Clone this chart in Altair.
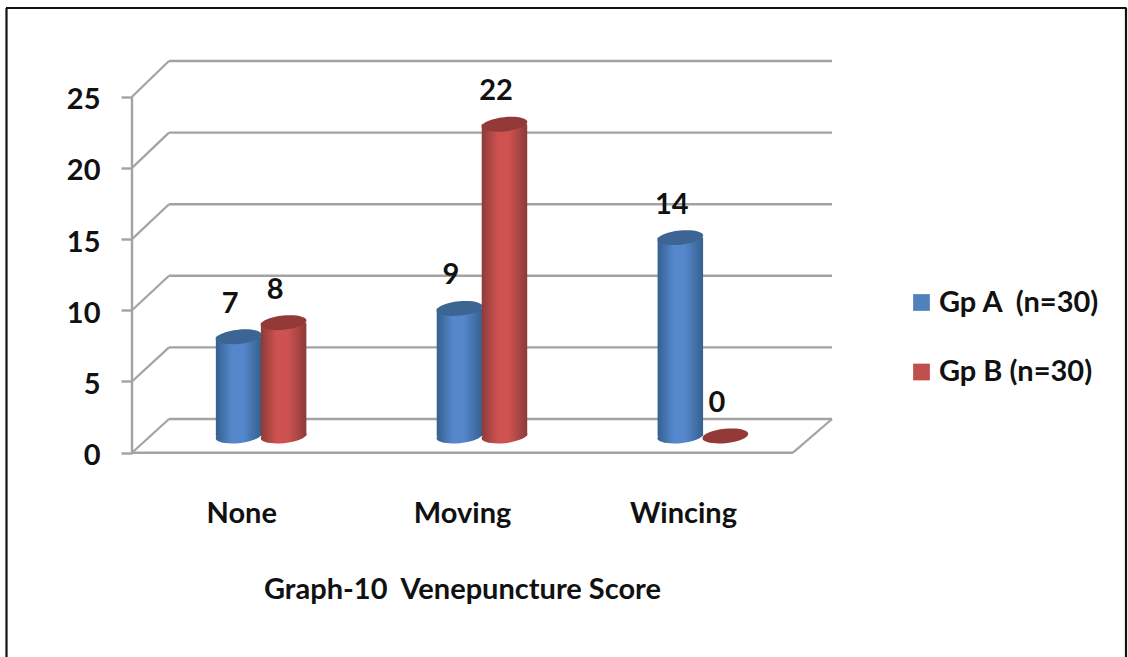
import altair as alt
import pandas as pd

# Venepuncture score counts per group
categories = ["None", "Moving", "Wincing"]
series_names = ["Gp A\u00a0 (n=30)", "Gp B (n=30)"]
gp_a = [7, 9, 14]
gp_b = [8, 22, 0]
ticks = [0, 5, 10, 15, 20, 25]
caption = "Graph-10\u00a0 Venepuncture Score"

W, H = 1128, 657
FONT = "Lato"
FONT_SIZE = 29
TXT = "#111111"
GRID = "#a3a3a3"


def px_domain(zero_px, per_unit):
    """Value domain that puts 0 at zero_px with per_unit pixels per value unit."""
    return [(zero_px - H) / per_unit, zero_px / per_unit]


WALL = alt.Scale(domain=px_domain(419.0, 14.32), range=[H, 0], nice=False, zero=False)
FRONT = alt.Scale(domain=px_domain(452.7, 14.24), range=[H, 0], nice=False, zero=False)
BAR = alt.Scale(domain=px_domain(436.0, 14.17), range=[H, 0], nice=False, zero=False)
X = alt.Scale(domain=categories, range=[150.3, 812.9], paddingInner=0, paddingOuter=0)
X_OFF = alt.Scale(domain=series_names, range=[65.8, 155.8], paddingInner=0, paddingOuter=0)

rows = []
for s, vals in zip(series_names, [gp_a, gp_b]):
    for c, v in zip(categories, vals):
        rows.append({"category": c, "series": s, "value": v, "zero": 0})
df = pd.DataFrame(rows)
tick_df = pd.DataFrame({"v": ticks})
one = pd.DataFrame({"a": [0]})


def grad(edge, mid):
    return alt.Gradient(
        gradient="linear", x1=0, x2=1, y1=0, y2=0,
        stops=[
            alt.GradientStop(color=edge, offset=0),
            alt.GradientStop(color=mid, offset=0.35),
            alt.GradientStop(color=mid, offset=0.6),
            alt.GradientStop(color=edge, offset=1),
        ],
    )


# Slightly tilted ellipse used for cylinder caps
ELLIPSE = "M -0.995 0.1 A 1 0.31 -6 1 1 0.995 -0.1 A 1 0.31 -6 1 1 -0.995 0.1 Z"
CAP_SIZE = 46 ** 2

styles = {
    series_names[0]: dict(edge="#35608f", mid="#5487cb", cap="#3d6594"),
    series_names[1]: dict(edge="#8c3b39", mid="#cd5250", cap="#933a38"),
}

# Category axis carries the chart caption as its title
x_enc = alt.X(
    "category:N", scale=X, title=caption,
    axis=alt.Axis(
        orient="bottom", offset=-165, domain=False, ticks=False, grid=False,
        labelAngle=0, labelFont=FONT, labelFontSize=FONT_SIZE, labelFontWeight="bold",
        labelColor=TXT, labelPadding=7, labelBaseline="top", labelOffset=-19,
        titleFont=FONT, titleFontSize=FONT_SIZE, titleFontWeight="bold", titleColor=TXT,
        titleX=462, titleY=97, titleBaseline="middle", titleAlign="center",
    ),
)
off_enc = alt.XOffset("series:N", scale=X_OFF)

layers = []

# Frame: left, top and right edges
frame = alt.Chart(one)
layers += [
    frame.mark_rule(color="#111111", strokeWidth=2.2).encode(
        x=alt.value(6.5), y=alt.value(8), y2=alt.value(H)),
    frame.mark_rule(color="#111111", strokeWidth=2.2).encode(
        x=alt.value(6), x2=alt.value(1126.5), y=alt.value(8)),
    frame.mark_rule(color="#111111", strokeWidth=2.2).encode(
        x=alt.value(1126), y=alt.value(8), y2=alt.value(H)),
]

# Back wall gridlines and their slanted returns to the front axis
layers.append(
    alt.Chart(tick_df).mark_rule(color=GRID, strokeWidth=2.4).encode(
        x=alt.value(169), x2=alt.value(832),
        y=alt.Y("v:Q", scale=WALL, axis=None),
    )
)
layers.append(
    alt.Chart(tick_df)
    .transform_calculate(front="(419.0 - (452.7 - 14.24 * datum.v)) / 14.32")
    .mark_rule(color=GRID, strokeWidth=2.2)
    .encode(
        x=alt.value(132), x2=alt.value(169),
        y=alt.Y("front:Q", scale=WALL, axis=None),
        y2=alt.Y2("v:Q"),
    )
)

# Floor edges
layers += [
    frame.mark_rule(color=GRID, strokeWidth=2.4).encode(
        x=alt.value(132), x2=alt.value(793), y=alt.value(452.7)),
    frame.mark_rule(color=GRID, strokeWidth=2.2).encode(
        x=alt.value(793), x2=alt.value(832), y=alt.value(452.7), y2=alt.value(419)),
]

# Front value axis with its spine
layers.append(
    alt.Chart(pd.DataFrame({"top": [ticks[-1]], "bottom": [ticks[0]]}))
    .mark_rule(color=GRID, strokeWidth=2.4)
    .encode(
        x=alt.value(132),
        y=alt.Y("top:Q", scale=FRONT, axis=None),
        y2=alt.Y2("bottom:Q"),
    )
)
layers.append(
    alt.Chart(tick_df).mark_point(size=0, opacity=0).encode(
        y=alt.Y(
            "v:Q", scale=FRONT, title=None,
            axis=alt.Axis(
                values=ticks, orient="left", offset=-132, domain=False, grid=False,
                tickColor=GRID, tickWidth=2.4, tickSize=11,
                labelFont=FONT, labelFontSize=FONT_SIZE, labelFontWeight="bold", labelColor=TXT,
                labelPadding=21, labelOffset=3, labelBaseline="middle",
                format="d",
            ),
        ),
    )
)

# Cylinders, one series at a time so the second overlaps the first
for name in series_names:
    st = styles[name]
    sub = alt.Chart(df).transform_filter(alt.datum.series == name)
    solid = sub.transform_filter(alt.datum.value > 0)
    g = grad(st["edge"], st["mid"])
    layers.append(
        solid.mark_point(shape=ELLIPSE, filled=True, fill=g, opacity=1, size=CAP_SIZE, stroke=None).encode(
            x=x_enc, xOffset=off_enc, y=alt.Y("zero:Q", scale=BAR, axis=None))
    )
    layers.append(
        solid.mark_bar(size=45.5, color=g).encode(
            x=x_enc, xOffset=off_enc,
            y=alt.Y("value:Q", scale=BAR, axis=None, stack=None),
            y2=alt.Y2("zero:Q"),
        )
    )
    layers.append(
        sub.mark_point(shape=ELLIPSE, filled=True, fill=st["cap"], opacity=1, size=CAP_SIZE, stroke=None).encode(
            x=x_enc, xOffset=off_enc, y=alt.Y("value:Q", scale=BAR, axis=None))
    )

# Value labels above each cylinder
layers.append(
    alt.Chart(df).mark_text(
        font=FONT, fontSize=FONT_SIZE, fontWeight="bold", color=TXT, dx=-8.5, dy=-33, baseline="middle",
    ).encode(
        x=x_enc, xOffset=off_enc,
        y=alt.Y("value:Q", scale=BAR, axis=None),
        text=alt.Text("value:Q"),
    )
)

# Legend
layers.append(
    alt.Chart(df).mark_point(filled=True, size=0, opacity=1).encode(
        color=alt.Color(
            "series:N",
            scale=alt.Scale(domain=series_names, range=["#4f81bd", "#c0504d"]),
            legend=alt.Legend(
                orient="none", legendX=907, legendY=288, title=None,
                symbolType="square", symbolSize=280, symbolOpacity=1,
                symbolStrokeWidth=0, labelFont=FONT, labelFontSize=FONT_SIZE,
                labelFontWeight="bold", labelColor=TXT, labelLimit=220,
                rowPadding=39.5, labelOffset=3,
            ),
        ),
    )
)

chart = (
    alt.layer(*layers)
    .resolve_scale(y="independent")
    .properties(width=W, height=H, padding=0, autosize=alt.AutoSizeParams(type="none"),
                background="white")
    .configure_view(stroke=None)
)

chart.save("out.html", embed_options={"renderer": "svg", "actions": False})
